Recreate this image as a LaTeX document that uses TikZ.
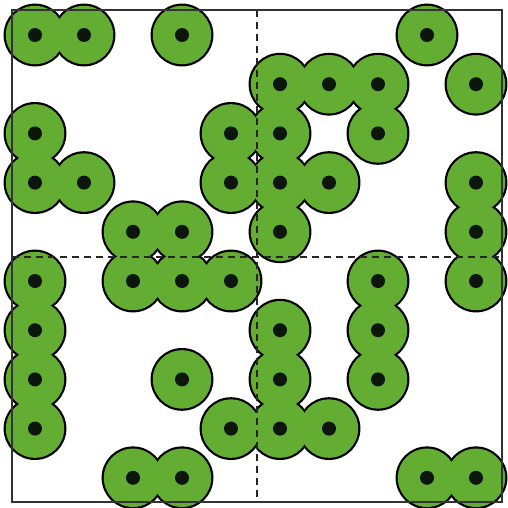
\documentclass[tikz,border=0pt]{standalone}
\usetikzlibrary{calc}
\definecolor{discgreen}{HTML}{62AD32}
\definecolor{dotblack}{HTML}{0C160C}
\definecolor{framegray}{HTML}{333333}
\tikzset{
  discline/.style={draw=black,line width=4.4pt},
  discfill/.style={fill=discgreen},
  centerdot/.style={fill=dotblack},
  framebox/.style={draw=framegray,line width=1.3pt},
  quadline/.style={draw=black!85,line width=1.4pt,dash pattern=on 7pt off 5pt}
}
\def\pts{0/0,1/0,3/0,8/0,
5/1,6/1,7/1,9/1,
0/2,4/2,5/2,7/2,
0/3,1/3,4/3,5/3,6/3,9/3,
2/4,3/4,5/4,9/4,
0/5,2/5,3/5,4/5,7/5,9/5,
0/6,5/6,7/6,
0/7,3/7,5/7,7/7,
0/8,4/8,5/8,6/8,
2/9,3/9,8/9,9/9}
\begin{document}
\begin{tikzpicture}[x=1pt,y=-1pt]
\useasboundingbox (0,0) rectangle (507,508);
% outlines
\foreach \i/\j in \pts {
  \path[discline] ({35+49*\i},{35+49.2*\j}) circle (29.2);
}
% fills
\foreach \i/\j in \pts {
  \path[discfill] ({35+49*\i},{35+49.2*\j}) circle (29.2);
}
% centres
\foreach \i/\j in \pts {
  \path[centerdot] ({35+49*\i},{35+49.2*\j}) circle (7);
}
% frame and quadrant lines
\coordinate (tl) at (12,10);
\coordinate (br) at (502,502);
\coordinate (vt) at (257,10);
\coordinate (vb) at (257,502);
\coordinate (hl) at (12,257);
\coordinate (hr) at (502,257);
\draw[quadline] (vt) -- (vb);
\draw[quadline] (hl) -- (hr);
\draw[framebox] (tl) rectangle (br);
\end{tikzpicture}
\end{document}
